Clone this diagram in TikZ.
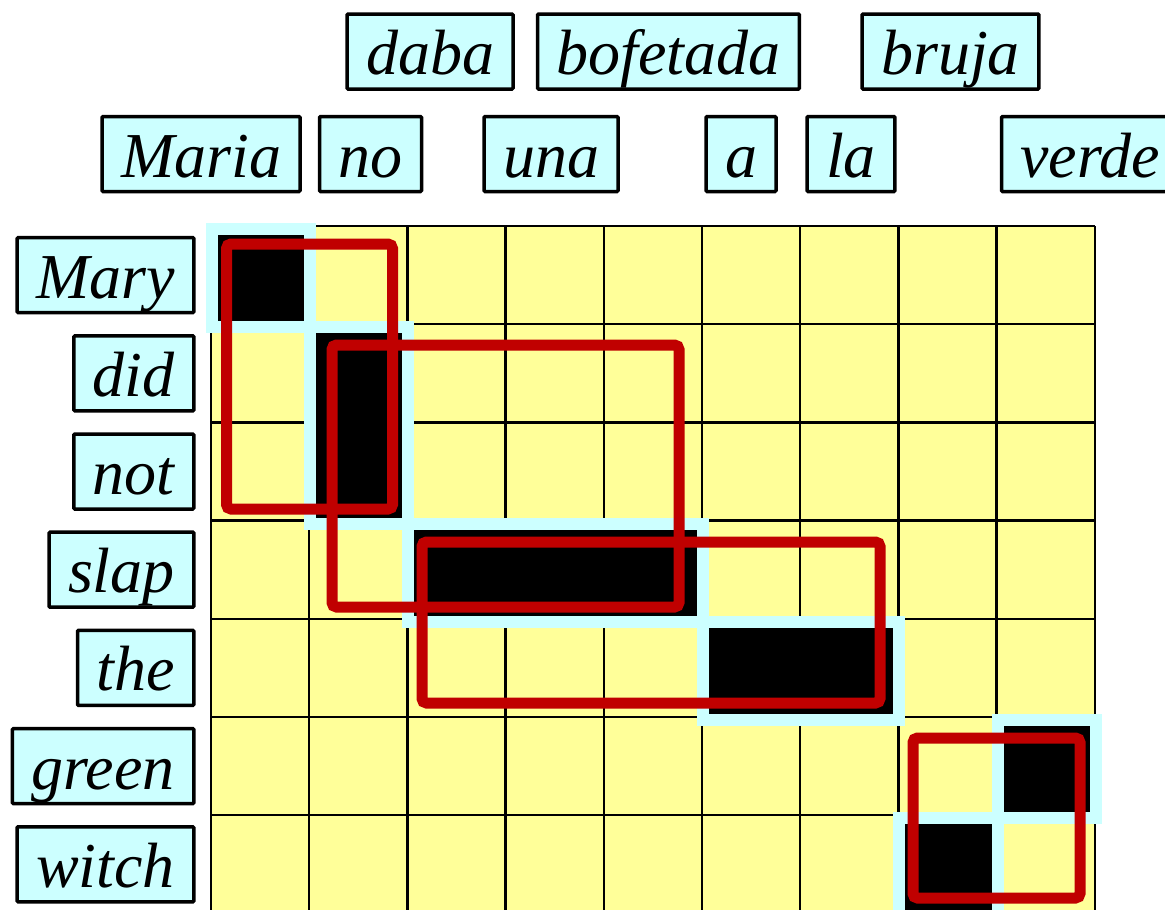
\documentclass[tikz,border=0pt]{standalone}
\usepackage{fontspec}
\setmainfont{Liberation Serif}
\definecolor{cellyellow}{HTML}{FFFF99}
\definecolor{boxcyan}{HTML}{CCFFFF}
\definecolor{phrasered}{HTML}{C00000}
\begin{document}
\begin{tikzpicture}[x=1pt,y=-1pt,
  word/.style={draw=black, line width=3.5pt, fill=boxcyan,
    font=\fontsize{64}{70}\selectfont\itshape,
    inner xsep=19pt, inner ysep=1.5pt, text height=59pt, text depth=13pt,
    minimum height=75pt, rounded corners=1pt},
  gridline/.style={draw=black, line width=2.5pt},
  alignblock/.style={draw=boxcyan, line width=12pt, fill=black},
  phrase/.style={draw=phrasered, line width=11pt, rounded corners=4.5pt}]
\useasboundingbox (0,0) rectangle (1165,910);

% alignment grid
\begin{scope}[shift={(211,226)}, x=98.2pt, y=-98.2pt]
  \fill[cellyellow] (0,0) rectangle (9,7);
  \foreach \i in {0,...,9} \draw[gridline] (\i,0) -- (\i,7);
  \foreach \j in {0,...,7} \draw[gridline] (0,\j) -- (9,\j);
  \foreach \c/\r/\cc/\rr in {0/0/1/1, 1/1/2/3, 2/3/5/4, 5/4/7/5, 8/5/9/6, 7/6/8/7}
    \draw[alignblock, xshift=1pt, yshift=-3pt] (\c,\r) rectangle (\cc,\rr);
\end{scope}

% phrase pairs
\draw[phrase] (226.5,244) rectangle (392.5,509);
\draw[phrase] (332,345) rectangle (679,607);
\draw[phrase] (422,542) rectangle (880,703);
\draw[phrase] (913,738) rectangle (1080,898);

% Spanish words (top)
\node[word] (daba) at (430,51.5) {daba};
\node[word] (bofetada) at (668.5,51.5) {bofetada};
\node[word] (bruja) at (950.5,51.5) {bruja};
\node[word] (maria) at (201,154) {Maria};
\node[word] (no) at (370.5,154) {no};
\node[word] (una) at (551,154) {una};
\node[word] (a) at (741,154) {a};
\node[word] (la) at (851,154) {la};
\node[word, anchor=west] (verde) at (999.75,154) {verde};

% English words (left)
\node[word, anchor=east] (mary) at (195.5,275.1) {Mary};
\node[word, anchor=east] (did) at (195.5,373.3) {did};
\node[word, anchor=east] (not) at (195.5,471.5) {not};
\node[word, anchor=east] (slap) at (195.5,569.7) {slap};
\node[word, anchor=east] (the) at (195.5,667.9) {the};
\node[word, anchor=east] (green) at (195.5,766.1) {green};
\node[word, anchor=east] (witch) at (195.5,864.3) {witch};
\end{tikzpicture}
\end{document}
